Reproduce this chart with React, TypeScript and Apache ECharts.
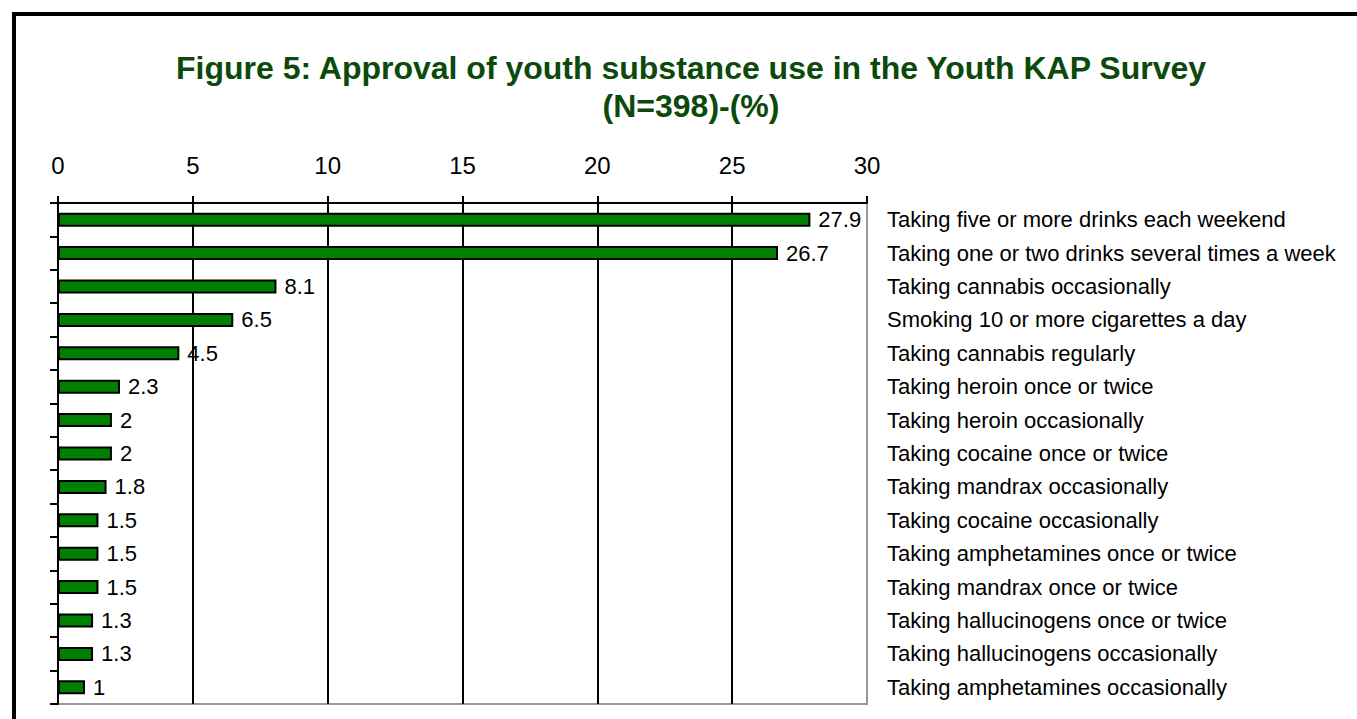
import React, { useEffect, useRef } from "react";
import * as echarts from "echarts";

const categories: string[] = [
  "Taking five or more drinks each weekend",
  "Taking one or two drinks several times a week",
  "Taking cannabis occasionally",
  "Smoking 10 or more cigarettes a day",
  "Taking cannabis regularly",
  "Taking heroin once or twice",
  "Taking heroin occasionally",
  "Taking cocaine once or twice",
  "Taking mandrax occasionally",
  "Taking cocaine occasionally",
  "Taking amphetamines once or twice",
  "Taking mandrax once or twice",
  "Taking hallucinogens once or twice",
  "Taking hallucinogens occasionally",
  "Taking amphetamines occasionally",
];

const values: number[] = [27.9, 26.7, 8.1, 6.5, 4.5, 2.3, 2, 2, 1.8, 1.5, 1.5, 1.5, 1.3, 1.3, 1];

const titleLines: string[] = [
  "Figure 5: Approval of youth substance use in the Youth KAP Survey",
  "(N=398)-(%)",
];

const FONT = "'Liberation Sans', Arial, Helvetica, sans-serif";

export default function App() {
  const ref = useRef<HTMLDivElement>(null);

  useEffect(() => {
    if (!ref.current) return;
    const chart = echarts.init(ref.current, undefined, { renderer: "svg" });
    chart.setOption({
      animation: false,
      backgroundColor: "#ffffff",
      textStyle: { fontFamily: FONT },
      grid: {
        left: 58,
        top: 203,
        right: 490,
        bottom: 15,
        show: true,
        borderColor: "#999999",
        borderWidth: 2,
        backgroundColor: "transparent",
      },
      xAxis: {
        type: "value",
        position: "top",
        min: 0,
        max: 30,
        interval: 5,
        axisLine: { show: true, lineStyle: { color: "#000", width: 2 } },
        axisTick: { show: true, length: 7, lineStyle: { color: "#000", width: 2 } },
        axisLabel: { fontSize: 24, color: "#000", margin: 26, fontFamily: FONT },
        splitLine: {
          show: true,
          lineStyle: {
            color: ["#000", "#000", "#000", "#000", "#000", "#000", "#999999"],
            width: 2,
          },
        },
      },
      yAxis: [
        {
          type: "category",
          data: categories,
          inverse: true,
          position: "left",
          axisLine: { show: true, lineStyle: { color: "#000", width: 2 } },
          axisTick: { show: true, length: 8, lineStyle: { color: "#000", width: 2 } },
          axisLabel: { show: false },
          splitLine: { show: false },
        },
        {
          type: "category",
          data: categories,
          inverse: true,
          position: "right",
          axisLine: { show: false },
          axisTick: { show: false },
          axisLabel: {
            show: true,
            fontSize: 22,
            color: "#000",
            margin: 20,
            align: "left",
            fontFamily: FONT,
          },
          splitLine: { show: false },
        },
      ],
      series: [
        {
          type: "bar",
          data: values,
          yAxisIndex: 0,
          barWidth: 14,
          itemStyle: { color: "#008000", borderColor: "#000", borderWidth: 2 },
          label: {
            show: true,
            position: "right",
            distance: 8,
            fontSize: 22,
            color: "#000",
            fontFamily: FONT,
          },
        },
      ],
      graphic: [
        {
          type: "rect",
          shape: { x: 14, y: 14, width: 1500, height: 900 },
          style: { fill: "none", stroke: "#000", lineWidth: 4 },
          silent: true,
        },
        {
          type: "text",
          x: 691,
          y: 68,
          style: {
            text: titleLines[0],
            fontSize: 32,
            fontWeight: "bold",
            fontFamily: FONT,
            fill: "#0b4a0b",
            textAlign: "center",
            textVerticalAlign: "middle",
          },
        },
        {
          type: "text",
          x: 691,
          y: 106,
          style: {
            text: titleLines[1],
            fontSize: 32,
            fontWeight: "bold",
            fontFamily: FONT,
            fill: "#0b4a0b",
            textAlign: "center",
            textVerticalAlign: "middle",
          },
        },
      ],
    });
    return () => chart.dispose();
  }, []);

  return (
    <div
      ref={ref}
      style={{ position: "fixed", left: 0, top: 0, width: 1357, height: 719, background: "#fff" }}
    />
  );
}
